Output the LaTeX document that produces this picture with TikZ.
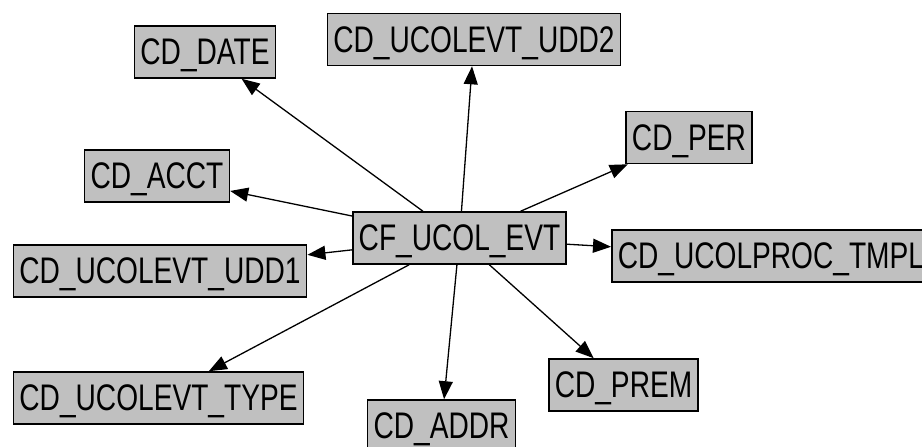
\documentclass[tikz,border=0pt]{standalone}
\usepackage{fontspec}
\newfontfamily\tblfont[FakeStretch=0.76]{Liberation Sans}
\usetikzlibrary{arrows.meta}
\definecolor{boxgray}{RGB}{192,192,192}
\begin{document}
\begin{tikzpicture}[x=1pt,y=1pt,
  tbl/.style={shape=rectangle,draw=black,fill=boxgray,line width=1.6pt,inner xsep=6pt,inner ysep=0pt,text height=39pt,text depth=13pt,font=\fontsize{37}{37}\tblfont},
  link/.style={-{Triangle[length=18pt,width=14pt]},line width=1.3pt}]
\useasboundingbox (0,0) rectangle (922,447);
\node[tbl] (EVT) at (459.5,209) {CF\_UCOL\_EVT};
\node[tbl] (DATE) at (205,395) {CD\_DATE};
\node[tbl] (UDD2) at (474,407.5) {CD\_UCOLEVT\_UDD2};
\node[tbl] (PER) at (689,309.5) {CD\_PER};
\node[tbl] (ACCT) at (157,271) {CD\_ACCT};
\node[tbl,anchor=west] (TMPL) at (611,191) {CD\_UCOLPROC\_TMPL};
\node[tbl] (UDD1) at (160,176) {CD\_UCOLEVT\_UDD1};
\node[tbl] (TYPE) at (158.5,49) {CD\_UCOLEVT\_TYPE};
\node[tbl] (ADDR) at (441.5,21) {CD\_ADDR};
\node[tbl] (PREM) at (623.5,62) {CD\_PREM};
\path [link] (EVT) edge (DATE);
\path [link] (EVT) edge (UDD2);
\path [link] (EVT) edge (PER);
\path [link] (EVT) edge (ACCT);
\path [link] (EVT) edge (TMPL);
\path [link] (EVT) edge (UDD1);
\path [link] (EVT) edge (TYPE);
\path [link] (EVT) edge (ADDR);
\path [link] (EVT) edge (PREM);
\end{tikzpicture}
\end{document}
